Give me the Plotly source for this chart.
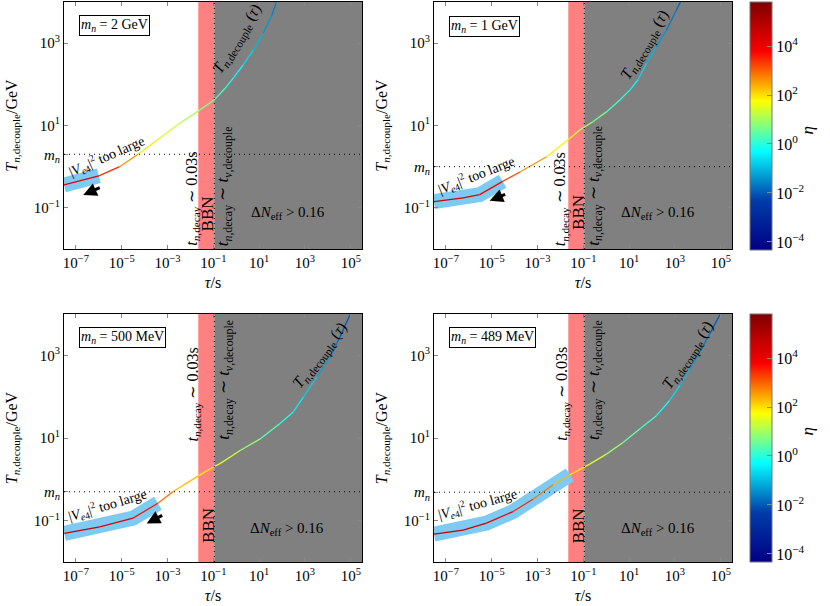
import math

import plotly.graph_objects as go
from plotly.colors import sample_colorscale

# heavy neutrino mass per panel (GeV) and the boxed label
m_n = [2.0, 1.0, 0.5, 0.489]
m_n_text = ["2 GeV", "1 GeV", "500 MeV", "489 MeV"]

# T_n,decouple(tau) curves: tau in s, T in GeV, eta = colour along the curve
tau_2gev = [3.0e-8, 1.0e-6, 8.1e-6, 5.1e-5, 4.5e-4, 3.3e-3, 0.026, 0.117, 0.32, 0.74, 2.0, 5.6,
            15.1, 35.5, 57]
T_2gev = [0.36, 0.60, 1.0, 2.0, 4.9, 11.2, 24, 43.6, 79, 141, 295, 676, 1740, 4790, 10000]
eta_2gev = [2.5e4, 6.3e3, 1.0e3, 160, 40, 16, 7.9, 3.2, 1.26, 0.63, 0.32, 0.13, 0.063, 0.032, 0.020]

tau_1gev = [3.0e-8, 5.6e-7, 3.0e-6, 3.0e-5, 1.7e-4, 2.5e-3, 0.026, 0.069, 0.26, 1.02, 3.9, 10.7,
            24.5, 57.5, 155, 427, 1175, 1900]
T_1gev = [0.141, 0.174, 0.209, 0.44, 0.74, 1.74, 4.9, 7.8, 12.3, 21.4, 41.7, 72.4, 129, 324, 813,
          2090, 6460, 11200]
eta_1gev = [3.2e4, 2.0e4, 1.0e4, 3.2e3, 1.0e3, 160, 32, 16, 6.3, 2.5, 1.26, 0.63, 0.32, 0.13, 0.063,
            0.032, 0.016, 0.013]

tau_500mev = [3.1e-8, 1.1e-6, 3.1e-5, 3.8e-4, 1.7e-3, 0.023, 0.11, 0.195, 1.48, 11.0, 81, 309, 851,
              3310, 1.26e4, 3.4e4, 1.0e5]
T_500mev = [0.049, 0.071, 0.115, 0.263, 0.50, 1.23, 2.04, 2.40, 5.0, 9.5, 22.4, 42.7, 97.7, 302, 912,
            2820, 10500]
eta_500mev = [5.0e4, 2.5e4, 7.9e3, 1.6e3, 400, 100, 50, 40, 12.6, 4.0, 1.26, 0.5, 0.25, 0.1, 0.032,
              0.013, 0.0063]

tau_489mev = [3.0e-8, 5.6e-7, 5.9e-6, 8.5e-5, 6.3e-4, 4.8e-3, 0.026, 0.19, 1.02, 5.4, 28.8, 155, 589,
              1620, 4470, 1.2e4, 3.3e4, 1.0e5]
T_489mev = [0.047, 0.059, 0.087, 0.166, 0.331, 0.741, 1.29, 2.34, 4.07, 7.76, 16.6, 34.7, 81, 186, 468,
            1200, 3310, 10500]
eta_489mev = [6.3e4, 4.0e4, 2.0e4, 5.0e3, 1.3e3, 320, 126, 40, 12.6, 5.0, 2.0, 1.0, 0.32, 0.16, 0.063,
              0.032, 0.016, 0.0079]

curves = [(tau_2gev, T_2gev, eta_2gev), (tau_1gev, T_1gev, eta_1gev),
          (tau_500mev, T_500mev, eta_500mev), (tau_489mev, T_489mev, eta_489mev)]

# last curve point covered by the "|V_e4|^2 too large" band
band_end = [1, 3, 3, 6]

# BBN window and start of the Delta N_eff region (s)
tau_bbn = [0.022, 0.11]

x_ticks = [1e-7, 1e-5, 1e-3, 1e-1, 1e1, 1e3, 1e5]
x_ticktext = ["10<sup>−7</sup>", "10<sup>−5</sup>", "10<sup>−3</sup>", "10<sup>−1</sup>",
              "10<sup>1</sup>", "10<sup>3</sup>", "10<sup>5</sup>"]
y_ticks = [0.1, 10, 1000]
y_ticktext = ["10<sup>−1</sup>", "10<sup>1</sup>", "10<sup>3</sup>"]
eta_ticks = [-4, -2, 0, 2, 4]
eta_ticktext = ["10<sup>−4</sup>", "10<sup>−2</sup>", "10<sup>0</sup>", "10<sup>2</sup>", "10<sup>4</sup>"]
eta_range = [-4.33, 5.8]

FONT = "Liberation Serif"
W, H = 830, 606


def fx(px):
    return px / W


def fy(py):
    return 1 - py / H


# label positions per panel, in log10 axis units
box_pos = [(-6.87, 3.43), (-6.88, 3.40), (-6.87, 3.44), (-6.88, 3.42)]
v_pos = [(-5.66, 0.27, -23.6), (-5.67, -0.21, -21.6), (-5.63, -0.62, -16.6), (-5.64, -0.59, -15.5)]
t_pos = [(0.02, 3.10, -58.6), (1.71, 2.96, -59), (3.66, 3.0, -52.7), (3.57, 3.0, -56)]
t03_pos = [(-1.90, -1.975), (-1.96, -1.975), (-1.88, 0.87), (-1.91, 0.87)]
tnu_pos = [(-0.52, -1.975), (-0.50, -1.975), (-0.49, 0.91), (-0.50, 0.90)]
bbn_pos = [(-1.26, -1.15), (-1.19, -1.10), (-1.22, -1.12), (-1.20, -1.12)]
dn_pos = [(2.24, -1.13), (2.26, -1.13), (2.21, -1.19), (2.26, -1.19)]
arrow_pos = [(-6.68, -0.69, 18, -8), (-5.09, -0.83, 17, -7), (-3.91, -1.07, 17, -9), None]

x_domains = [[fx(64), fx(362)], [fx(434), fx(732)], [fx(64), fx(362)], [fx(434), fx(732)]]
y_domains = [[fy(249), fy(2)], [fy(249), fy(2)], [fy(562), fy(314)], [fy(562), fy(314)]]

DOT = "1px,4px"

fig = go.Figure()
annotations = []
shapes = []

for i, (tau, T, eta) in enumerate(curves):
    xa = "x" if i == 0 else f"x{i + 1}"
    ya = "y" if i == 0 else f"y{i + 1}"
    log_eta = [math.log10(e) for e in eta]

    # light blue band
    fig.add_trace(go.Scatter(x=tau[:band_end[i] + 1], y=T[:band_end[i] + 1], mode="lines",
                             line=dict(color="rgb(125,202,242)", width=15),
                             xaxis=xa, yaxis=ya, showlegend=False, hoverinfo="skip"))
    # curve coloured by eta, one segment per pair of read points
    for k in range(len(tau) - 1):
        c = (0.5 * (log_eta[k] + log_eta[k + 1]) - eta_range[0]) / (eta_range[1] - eta_range[0])
        col = sample_colorscale("Jet", [min(max(c, 0), 1)])[0]
        fig.add_trace(go.Scatter(x=tau[k:k + 2], y=T[k:k + 2], mode="lines",
                                 line=dict(color=col, width=1.3),
                                 xaxis=xa, yaxis=ya, showlegend=False, hoverinfo="skip"))
    # invisible markers carrying the colour bar
    fig.add_trace(go.Scatter(x=tau, y=T, mode="markers",
                             marker=dict(size=1, opacity=0, color=log_eta,
                                         coloraxis="coloraxis" if i < 2 else "coloraxis2"),
                             xaxis=xa, yaxis=ya, showlegend=False, hoverinfo="skip"))

    shapes += [
        dict(type="rect", xref=xa, yref=f"{ya} domain", x0=tau_bbn[0], x1=tau_bbn[1], y0=0, y1=1,
             fillcolor="rgb(255,128,128)", line=dict(width=0), layer="below"),
        dict(type="rect", xref=xa, yref=f"{ya} domain", x0=tau_bbn[1], x1=1e7, y0=0, y1=1,
             fillcolor="rgb(128,128,128)", line=dict(width=0), layer="below"),
        dict(type="line", xref=xa, yref=f"{ya} domain", x0=tau_bbn[1], x1=tau_bbn[1], y0=0, y1=1,
             line=dict(color="black", width=1, dash=DOT)),
        dict(type="line", xref=f"{xa} domain", yref=ya, x0=0, x1=1, y0=m_n[i], y1=m_n[i],
             line=dict(color="black", width=1, dash=DOT)),
    ]

    def txt(text, x, y, size=13, angle=0, **kw):
        return dict(xref=xa, yref=ya, x=x, y=y, text=text, showarrow=False, textangle=angle,
                    font=dict(family=FONT, size=size, color="black"), **kw)

    annotations += [
        txt(f"<i>m<sub>n</sub></i> = {m_n_text[i]}", box_pos[i][0], box_pos[i][1], size=14,
            xanchor="left", bordercolor="black", borderwidth=1, borderpad=1, bgcolor="white"),
        txt("|<i>V</i><sub><i>e</i>4</sub>|<sup>2</sup> too large", v_pos[i][0], v_pos[i][1],
            size=14, angle=v_pos[i][2]),
        txt("<i>T</i><sub><i>n</i>,decouple</sub> (<i>τ</i>)", t_pos[i][0], t_pos[i][1], size=16,
            angle=t_pos[i][2]),
        txt("<i>t</i><sub><i>n</i>,decay</sub> ∼ 0.03s", t03_pos[i][0], t03_pos[i][1], size=16,
            angle=-90, yanchor="bottom"),
        txt("<i>t</i><sub><i>n</i>,decay</sub> ∼ <i>t</i><sub><i>ν</i>,decouple</sub>",
            tnu_pos[i][0], tnu_pos[i][1], size=17, angle=-90, yanchor="bottom"),
        txt("BBN", bbn_pos[i][0], bbn_pos[i][1], size=17, angle=-90),
        txt("Δ<i>N</i><sub>eff</sub> &gt; 0.16", dn_pos[i][0], dn_pos[i][1], size=15),
    ]
    if arrow_pos[i]:
        hx, hy, ax, ay = arrow_pos[i]
        annotations.append(dict(xref=xa, yref=ya, x=hx, y=hy, ax=ax, ay=ay, text="",
                                showarrow=True, arrowhead=2, arrowsize=0.9, arrowwidth=3,
                                arrowcolor="black"))

    axis_common = dict(type="log", showline=True, linecolor="black", linewidth=1, mirror="ticks",
                       ticks="inside", ticklen=4, tickcolor="#888", showgrid=False, zeroline=False,
                       automargin=False, tickfont=dict(family=FONT, size=15, color="black"))
    fig.layout[f"xaxis{i + 1 if i else ''}"] = dict(
        axis_common, domain=x_domains[i], anchor=ya, range=[-7.52, 5.49],
        tickvals=x_ticks, ticktext=x_ticktext,
        title=dict(text="<i>τ</i>/s", font=dict(family=FONT, size=16, color="black"), standoff=6))
    fig.layout[f"yaxis{i + 1 if i else ''}"] = dict(
        axis_common, domain=y_domains[i], anchor=xa, range=[-2, 4],
        tickvals=y_ticks + [m_n[i]], ticktext=y_ticktext + ["<i>m<sub>n</sub></i>"],
        title=dict(text="<i>T</i><sub><i>n</i>,decouple</sub>/GeV",
                   font=dict(family=FONT, size=16, color="black"), standoff=12))

# colour bar titles, one per row
for row_mid in [125, 438]:
    annotations.append(dict(xref="paper", yref="paper", x=fx(818), y=fy(row_mid), text="<i>η</i>",
                            showarrow=False, textangle=-90,
                            font=dict(family=FONT, size=17, color="black")))

colorbar_common = dict(thickness=22, len=248 / H, lenmode="fraction", x=fx(750), xanchor="left",
                       yanchor="top", xpad=0, ypad=0, outlinecolor="#777", outlinewidth=1,
                       tickvals=eta_ticks, ticktext=eta_ticktext, ticks="inside", ticklen=5,
                       tickcolor="#888", tickfont=dict(family=FONT, size=16, color="black"))
fig.update_layout(
    width=W, height=H, margin=dict(l=0, r=0, t=0, b=0, autoexpand=False),
    paper_bgcolor="white", plot_bgcolor="white",
    coloraxis=dict(colorscale="Jet", cmin=eta_range[0], cmax=eta_range[1],
                   colorbar=dict(colorbar_common, y=fy(2))),
    coloraxis2=dict(colorscale="Jet", cmin=eta_range[0], cmax=eta_range[1],
                    colorbar=dict(colorbar_common, y=fy(314))),
    shapes=shapes, annotations=annotations,
)

# the page body has an 8px default margin; drop it so the figure fills the window
fig.write_html("out.html", config={"displayModeBar": False},
               post_script="document.body.style.margin = '0';")
